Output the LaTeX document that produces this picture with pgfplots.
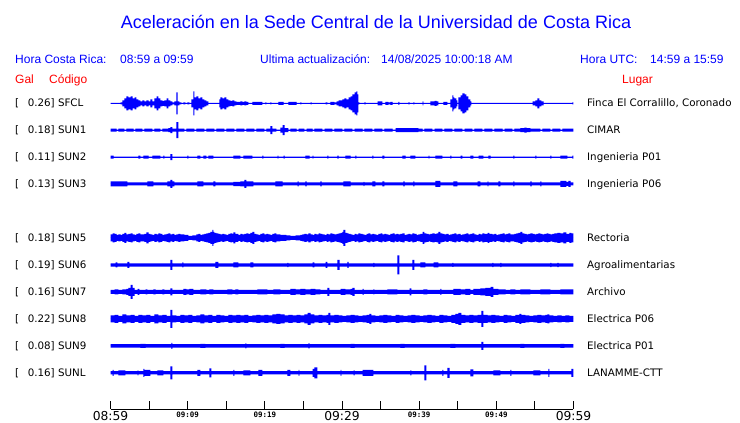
\documentclass[border=0pt]{standalone}
\usepackage{fontspec}
\setmainfont{DejaVu Sans}
\newfontfamily\lib{Liberation Sans}
\newfontfamily\mono{DejaVu Sans Mono}
\usepackage{pgfplots}
\pgfplotsset{compat=1.18}
\usepackage{pgfplotstable}
\definecolor{tblue}{RGB}{0,0,255}
\definecolor{tred}{RGB}{255,0,0}

% p = pixel column of the trace, h = half amplitude (px) of the envelope, held until the next row
\pgfplotstableread{
p h
110 0.5
120 1
122 3
124 5
126 7
128 6
130 7
132 5
134 6
136 4
138 3
140 2
142 3
144 2
146 3
148 2
150 4
152 2
154 5
156 7
158 5
160 3
162 2.5
164 3
166 5
168 3
170 2
172 1
174 2
176 11
177 2
179 1
181 0.5
183 1
185 0.5
187 1
189 0.5
191 4
193 12
194 6
196 7
198 5
200 6
202 4
204 3
206 2
208 0.5
219 4
220 6
222 5
224 6
226 4
228 3
230 2.5
232 3
234 2
236 1.5
240 2
242 1.5
244 2
246 1.5
248 0.5
252 1.5
256 1.5
262 0.5
265 1
266 0.5
270 1
271 0.5
278 1.5
283 0.5
288 1.5
296 0.5
300 1
301 0.5
310 1
311 0.5
325 1
327 0.5
330 1.5
334 1
336 2
338 3
340 3
342 4
344 5
346 4
348 6
350 7
352 9
354 11
356 12
357 9
358 1
359 0.5
364 1
365 0.5
377 2
382 0.5
385 1.5
388 1
390 1.5
392 0.5
398 1.5
399 0.5
408 1
409 0.5
413 1
414 0.5
422 2
423 0.5
430 2
434 2.5
436 2
438 0.5
443 1.5
447 0.5
450 4
452 8
453 6
454 5
456 3
457 0.5
458 6
460 8
462 10
464 9
466 7
468 4
470 2
471 0.5
532 2
535 3
537 5
539 3
541 2
543 0.5
572 1
573 0.5
}\tSFCL

\pgfplotstableread{
p h
110 1.5
116 0.6
118 1.5
124 0.6
126 1.5
133 0.6
135 1.5
142 0.6
144 1.5
152 0.6
154 1.5
160 0.6
162 1.5
168 2
170 3
172 1.5
176 8
178 1.5
184 0.6
186 1.5
194 0.6
196 1.5
204 0.6
206 1.5
214 0.6
216 1.5
224 0.6
226 1.5
234 0.6
236 1.5
244 0.6
246 1.5
254 0.6
256 1.5
264 0.6
266 1.5
270 4
272 1.5
276 0.6
280 2.5
282 5
284 2
288 0.6
290 1.5
296 0.6
298 1.5
304 0.6
306 1.5
312 0.6
314 1.5
322 0.6
324 1.5
332 0.6
334 1.5
342 0.6
344 1.5
352 0.6
354 1.5
362 0.6
364 1.5
372 0.6
374 1.5
382 0.6
384 1.5
392 0.6
395 2
418 1.5
422 0.6
424 1.5
432 0.6
434 1.5
442 0.6
444 1.5
452 0.6
454 1.5
462 0.6
464 1.5
472 0.6
474 1.5
482 0.6
484 1.5
492 0.6
494 1.5
502 0.6
504 1.5
512 0.6
514 1.5
520 2
524 2.5
526 2
530 1.5
540 0.6
542 1.5
550 0.6
552 1.5
560 0.6
562 1.5
573 1.5
}\tSUNa

\pgfplotstableread{
p h
110 1.5
113 0.5
138 1.5
140 0.5
143 1.5
148 0.5
152 1.5
160 0.5
163 1.5
164 0.5
170 3
172 0.5
187 1.5
188 0.5
197 1.5
200 0.5
203 1.5
206 0.5
208 1.5
213 0.5
233 1.5
240 0.5
243 1.5
252 0.5
262 1.5
263 0.5
277 1.5
278 0.5
283 1.5
284 0.5
305 1.5
309 0.5
312 1.5
313 0.5
327 1.5
328 0.5
337 1.5
338 0.5
345 1.5
350 0.5
355 1.5
356 0.5
372 1.5
373 0.5
382 1.5
384 0.5
402 1.5
405 0.5
410 1.5
415 0.5
428 1.5
429 0.5
435 1.5
442 0.5
450 1.5
451 0.5
460 1.5
462 0.5
470 1.5
473 0.5
478 1.5
483 0.5
488 1.5
490 0.5
513 1.5
514 0.5
535 1.5
536 0.5
550 1.5
551 0.5
560 1.5
567 0.5
572 1.5
573 1.5
}\tSUNb

\pgfplotstableread{
p h
110 2.5
127 1.5
147 2.5
153 1.5
167 2.5
170 4
172 2.5
174 1.5
197 2.5
203 1.5
213 2.5
215 1.5
233 2.2
240 2.5
244 4
246 2.5
253 1.5
275 2.5
282 1.5
297 2.5
298 1.5
305 2.5
306 1.5
320 2.5
321 1.5
343 2.5
350 1.5
363 2.2
364 1.5
372 2.5
375 1.5
382 2.5
384 1.5
403 2.5
404 1.5
413 2.5
414 1.5
435 3
440 1.5
453 2.5
457 1.5
477 2.5
480 1.5
487 2.5
488 1.5
498 2.5
500 1.5
513 2.5
514 1.5
530 2.5
531 1.5
540 2.5
541 1.5
560 3
566 2
568 3
570 1.5
573 1.5
}\tSUNc

\pgfplotstableread{
p h
110 3.5
112 4.5
114 4
116 3
118 3.5
120 3
122 4
124 5
126 3.5
128 4
130 4.5
132 3.5
134 3
136 4
138 4.5
140 3.5
142 3.5
144 4
146 5.5
148 4
150 3.5
152 3
154 4
156 3.5
158 4.5
160 4
162 3
164 3.5
166 4
168 4.5
170 3.5
172 4
174 3
176 3.5
178 4
180 3.5
184 3
188 2
192 2.5
196 3.5
198 4
200 3
202 3.5
204 4
206 4.5
208 5
210 6
212 8
213 6
214 5
216 4.5
218 4
220 3.5
222 4
224 3.5
226 3
228 4
230 4.5
232 4
233 5.5
235 4
238 3
240 4
242 3.5
244 4
246 4.5
248 4
250 5
252 6
254 4
256 3.5
258 3
260 4
262 4.5
264 3.5
266 4
268 3.5
270 3
272 4
274 4.5
276 3.5
278 3.5
280 3
282 3
286 2.5
290 2
295 2.5
300 3
302 3.5
304 4
306 3.5
308 4.5
310 3.5
312 3
314 4
316 3.5
318 4.5
320 4
322 3.5
324 3
326 4
328 3.5
330 4.5
332 4
334 3.5
336 4
338 4.5
340 5
342 6
343 8
345 5
347 4.5
348 4
350 3.5
352 3
354 4
356 3.5
358 4.5
360 4
362 3.5
364 3
366 4
368 4.5
370 3.5
372 4
374 3.5
376 3
378 4
380 4.5
382 3.5
384 4
386 3.5
388 3
390 4
392 4.5
394 3.5
396 4
398 3.5
400 4
402 4.5
404 3
406 3.5
408 4
410 3.5
412 4.5
414 4
416 3
418 3.5
420 4
422 6
424 4.5
426 4
428 3.5
430 4
432 4.5
434 4
436 4.5
438 6
440 4.5
442 4
444 3.5
446 4
448 3
450 3.5
452 4
454 4.5
456 3.5
458 4
460 3
462 3.5
464 4
466 4.5
468 3.5
470 4
472 4.5
474 3.5
476 3
478 4
480 3.5
482 4.5
484 4
487 5
489 4
492 3.5
494 4
496 3
498 3.5
500 4
502 4.5
504 3.5
506 4
508 4.5
510 3.5
512 3.5
514 4
516 4.5
518 5
520 6
522 4.5
524 4
526 3.5
528 4
530 4.5
532 4
534 3.5
536 4
538 4.5
540 4
542 3.5
544 4
546 4.5
548 4
550 3.5
552 4
554 4.5
557 5
560 4.5
563 5.5
566 4
569 5
571 4.5
573 4
}\tSUNe

\pgfplotstableread{
p h
110 1.7
115 2.5
117 1.7
127 3
129 1.7
170 5
172 1.7
182 2.5
183 1.7
215 3
218 1.7
233 2.5
238 1.7
250 2.5
253 1.7
287 2.2
288 1.7
312 2.5
314 1.7
325 3
327 1.7
337 5
339 1.7
347 3
348 1.7
373 2.2
374 1.7
397 9.5
399 1.7
412 5
414 1.7
420 2.5
425 1.7
433 2.5
438 1.7
452 2
453 1.7
492 2.2
493 1.7
500 2.2
501 1.7
550 2.2
551 1.7
557 2.2
558 1.7
573 1.7
}\tSUNf

\pgfplotstableread{
p h
110 2
114 2.5
118 2
122 2.5
126 3
128 4
130 7
132 4
134 2
137 3
139 2
145 2.5
147 2
153 2.5
155 2
162 2.5
164 2
170 3.5
172 2
183 3
186 2.5
189 3
193 2
200 2.5
206 2
209 2.5
213 2
227 2.5
232 2
235 2.5
238 2
257 2.5
267 2
273 2.5
280 2
290 3
295 2.5
300 3
305 2.5
310 3
315 2.5
320 2
327 4
329 2
340 3
345 2.5
350 3
352 4
354 2
362 3
363 2
373 2.5
374 2
387 2.5
397 2
409 3.5
411 2
423 2.5
427 2
440 3
441 2
453 3
460 2.5
465 3
470 2
473 3
480 3.5
485 4
490 5
493 3
498 2.5
505 2
510 2.5
515 2
520 2.5
530 2
540 2.5
550 2
560 2.5
573 2.5
}\tSUNg

\pgfplotstableread{
p h
110 3.5
114 4
118 3
122 4.5
126 3.5
130 4
134 3
138 4
142 3.5
146 4
150 3
154 4.5
158 3.5
162 4
166 3
170 9
172 3.5
176 3
180 4
184 3.5
188 4
192 3
196 3.5
200 4.5
204 3.5
208 4
212 3
216 4
220 3.5
224 3
228 4
232 3.5
236 4
240 3.5
244 4
248 3
252 3.5
256 4
260 3.5
264 4
268 3.5
272 4.5
276 5
280 4.5
284 3.5
288 4
292 3.5
296 4
300 3.5
304 4.5
307 6
310 4.5
314 3.5
318 4
322 3.5
326 4
328 6
330 3.5
334 4
338 3.5
342 3
346 3.5
350 4
354 3.5
358 3
362 3.5
366 4
369 5
371 3.5
375 3
379 3.5
383 4
387 3.5
391 3
395 4
399 3.5
403 3
407 3.5
411 4
415 3.5
419 3
423 3.5
427 4
431 3.5
435 3
439 4
443 3.5
447 3
451 4
455 5
458 6
461 4
465 3.5
469 4
473 3.5
477 4
481 8
483 4
487 3.5
491 4
495 3.5
499 3
503 4
507 3.5
511 3
515 4
519 5
521 4
525 3.5
529 3
533 3.5
537 4
541 3.5
545 4
547 4.5
549 3.5
553 3
557 3.5
561 3
565 3.5
569 3
573 3
}\tSUNh

\pgfplotstableread{
p h
110 1.7
140 2
145 1.7
171 3
172 1.7
200 2
205 1.7
245 2.5
246 1.7
280 2
284 1.7
308 2.5
309 1.7
350 2
354 1.7
400 2
404 1.7
450 2
455 1.7
481 4
483 1.7
520 2
524 1.7
560 2
564 1.7
573 1.7
}\tSUNi

\pgfplotstableread{
p h
110 1.7
112 3
113 1.7
118 2.5
125 1.7
137 2.5
138 1.7
143 4
144 3
150 1.7
157 2.5
163 1.7
170 6.5
172 1.7
197 3
200 1.7
209 4.5
211 1.7
233 3
234 1.7
243 2.5
250 1.7
258 3
262 1.7
287 3
290 1.7
298 3
299 1.7
312 4
314 5.5
317 1.7
340 3
341 1.7
353 2.5
354 1.7
362 3
373 1.7
410 2.5
411 1.7
424 7.5
426 1.7
442 3
443 1.7
447 5
449 1.7
470 3.5
473 1.7
493 2.5
500 1.7
510 3
511 1.7
533 2.5
540 1.7
548 4
549 1.7
571 4
573 1.7
}\tSUNL

\pgfplotsset{trace/.style={scale only axis, width=463pt, height=26pt,
  xmin=0, xmax=60, ymin=-13, ymax=13, hide axis, clip=false, anchor=west}}

% #1 table, #2 baseline height (pt from bottom of picture)
\newcommand{\trace}[2]{%
\begin{axis}[trace, at={(110.5pt,#2pt)}]
  \addplot[const plot, fill=tblue, draw=none]
    table[x expr={(\thisrow{p}-110)*60/463}, y=h] {#1} \closedcycle;
  \addplot[const plot, fill=tblue, draw=none]
    table[x expr={(\thisrow{p}-110)*60/463}, y expr={-\thisrow{h}}] {#1} \closedcycle;
  \addplot[tblue, line width=1pt] coordinates {(0,0) (60,0)};
\end{axis}}

\newcommand{\bigtl}{\fontsize{12.3}{12}\selectfont}
\newcommand{\smtl}{\mono\bfseries\fontsize{7.5}{8}\selectfont}

\begin{document}
\begin{tikzpicture}
% time axis
\begin{axis}[
  at={(110.5pt,14pt)}, anchor=south west,
  scale only axis, width=463pt, height=324pt,
  xmin=0, xmax=60, ymin=0, ymax=1,
  axis x line=bottom, axis y line=none,
  axis line style={-, black, line width=0.9pt},
  xtick={0,5,...,60},
  xticklabels={{\bigtl 08:59},{},{\smtl 09:09},{},{\smtl 09:19},{},{\bigtl 09:29},{},{\smtl 09:39},{},{\smtl 09:49},{},{\bigtl 09:59}},
  major tick length=8pt, xtick align=inside,
  tick style={black, line width=0.9pt},
  xticklabel style={anchor=north, inner sep=0pt, yshift=-2.5pt},
  clip=false]
\end{axis}
\trace{\tSFCL}{319.7}
\trace{\tSUNa}{292.8}
\trace{\tSUNb}{265.9}
\trace{\tSUNc}{239.0}
\trace{\tSUNe}{185.0}
\trace{\tSUNf}{158.0}
\trace{\tSUNg}{131.1}
\trace{\tSUNh}{104.1}
\trace{\tSUNi}{77.1}
\trace{\tSUNL}{50.2}

% titles and headers (y = 423 - pixel row)
\node[anchor=base, text=tblue, font={\lib\fontsize{18}{20}\selectfont}, inner sep=0pt] at (376pt,394pt) {Aceleración en la Sede Central de la Universidad de Costa Rica};
\begin{scope}[every node/.style={anchor=base west, inner sep=0pt, text=tblue, font={\lib\fontsize{12}{14}\selectfont}}]
\node at (15pt,359pt) {Hora Costa Rica:};
\node at (120pt,359pt) {08:59 a 09:59};
\node at (260pt,359pt) {Ultima actualización:};
\node at (381pt,359pt) {14/08/2025 10:00:18 AM};
\node at (580pt,359pt) {Hora UTC:};
\node at (650pt,359pt) {14:59 a 15:59};
\end{scope}
\begin{scope}[every node/.style={anchor=base west, inner sep=0pt, text=tred, font={\lib\fontsize{12}{14}\selectfont}}]
\node at (15pt,339pt) {Gal};
\node at (49pt,339pt) {Código};
\node at (622pt,339pt) {Lugar};
\end{scope}
% station labels
\begin{scope}[every node/.style={anchor=base west, inner sep=0pt, font={\fontsize{10.3}{12}\selectfont}}]
\node at (15pt,316.1pt) {[\hspace{8.6pt}0.26] SFCL};
\node at (15pt,289.2pt) {[\hspace{8.6pt}0.18] SUN1};
\node at (15pt,262.3pt) {[\hspace{8.6pt}0.11] SUN2};
\node at (15pt,235.4pt) {[\hspace{8.6pt}0.13] SUN3};
\node at (15pt,181.4pt) {[\hspace{8.6pt}0.18] SUN5};
\node at (15pt,154.4pt) {[\hspace{8.6pt}0.19] SUN6};
\node at (15pt,127.5pt) {[\hspace{8.6pt}0.16] SUN7};
\node at (15pt,100.5pt) {[\hspace{8.6pt}0.22] SUN8};
\node at (15pt,73.5pt) {[\hspace{8.6pt}0.08] SUN9};
\node at (15pt,46.6pt) {[\hspace{8.6pt}0.16] SUNL};
\node at (587pt,316.1pt) {Finca El Corralillo, Coronado};
\node at (587pt,289.2pt) {CIMAR};
\node at (587pt,262.3pt) {Ingenieria P01};
\node at (587pt,235.4pt) {Ingenieria P06};
\node at (587pt,181.4pt) {Rectoria};
\node at (587pt,154.4pt) {Agroalimentarias};
\node at (587pt,127.5pt) {Archivo};
\node at (587pt,100.5pt) {Electrica P06};
\node at (587pt,73.5pt) {Electrica P01};
\node at (587pt,46.6pt) {LANAMME-CTT};
\end{scope}
\pgfresetboundingbox
\path[use as bounding box] (0,0) rectangle (740pt,423pt);
\end{tikzpicture}
\end{document}
